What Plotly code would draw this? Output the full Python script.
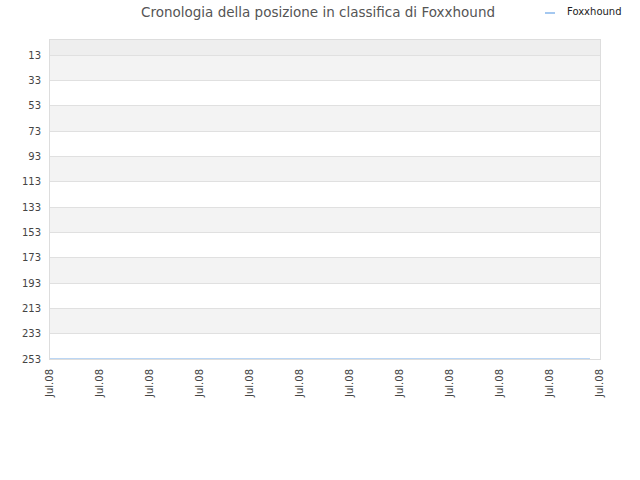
import plotly.graph_objects as go

# Data
series_name = "Foxxhound"
dates = ["2008-07-01 00:00", "2008-07-11 19:12"]
positions = [253, 253]
y_ticks = list(range(13, 254, 20))

title = "Cronologia della posizione in classifica di Foxxhound"

fig = go.Figure()
fig.add_trace(go.Scatter(x=dates, y=positions, mode="lines", name=series_name,
                         line=dict(color="#a4c8f0", width=1.5),
                         showlegend=False))

# alternating bands between grid lines
shapes = [dict(type="rect", xref="paper", yref="y", x0=0, x1=1, y0=1, y1=13,
               fillcolor="#eeeeee", line=dict(width=0), layer="below")]
for i, lo in enumerate(y_ticks[:-1]):
    if i % 2 == 0:
        shapes.append(dict(type="rect", xref="paper", yref="y", x0=0, x1=1,
                           y0=lo, y1=lo + 20, fillcolor="#f3f3f3",
                           line=dict(width=0), layer="below"))

# small legend drawn by hand (plot area is 550 x 319 px)
shapes.append(dict(type="line", xref="paper", yref="paper",
                   x0=(545 - 50) / 550, x1=(555 - 50) / 550,
                   y0=(359 - 13) / 319, y1=(359 - 13) / 319,
                   line=dict(color="#a4c8f0", width=2)))

fig.update_layout(
    width=640, height=480,
    margin=dict(l=50, r=40, t=40, b=121),
    paper_bgcolor="white", plot_bgcolor="white",
    font=dict(family="DejaVu Sans", size=10, color="#444"),
    title=dict(text=title, x=318 / 640, xanchor="center",
               y=1 - 12 / 480, yanchor="middle",
               font=dict(size=13.5, color="#555")),
    shapes=shapes,
    annotations=[dict(text=series_name, xref="paper", yref="paper",
                      x=(565 - 50) / 550, y=(359 - 12) / 319,
                      xanchor="left", yanchor="middle", showarrow=False,
                      font=dict(size=10, color="#222"))],
    xaxis=dict(type="date", range=["2008-07-01", "2008-07-12"],
               dtick=86400000, tick0="2008-07-01", tickformat="%b.%y",
               tickangle=-90, showgrid=False, zeroline=False,
               showline=True, linecolor="#dddddd", mirror=True,
               ticks="outside", ticklen=5, tickcolor="rgba(0,0,0,0)"),
    yaxis=dict(range=[253, 1], tickvals=y_ticks, showgrid=True,
               gridcolor="#e0e0e0", zeroline=False,
               showline=True, linecolor="#dddddd", mirror=True,
               ticks="outside", ticklen=6, tickcolor="rgba(0,0,0,0)"),
)

# drop the default 8px page margin so the figure sits at the window corner
fig.write_html("out.html", config={"displayModeBar": False},
               post_script="document.body.style.margin = '0';")
